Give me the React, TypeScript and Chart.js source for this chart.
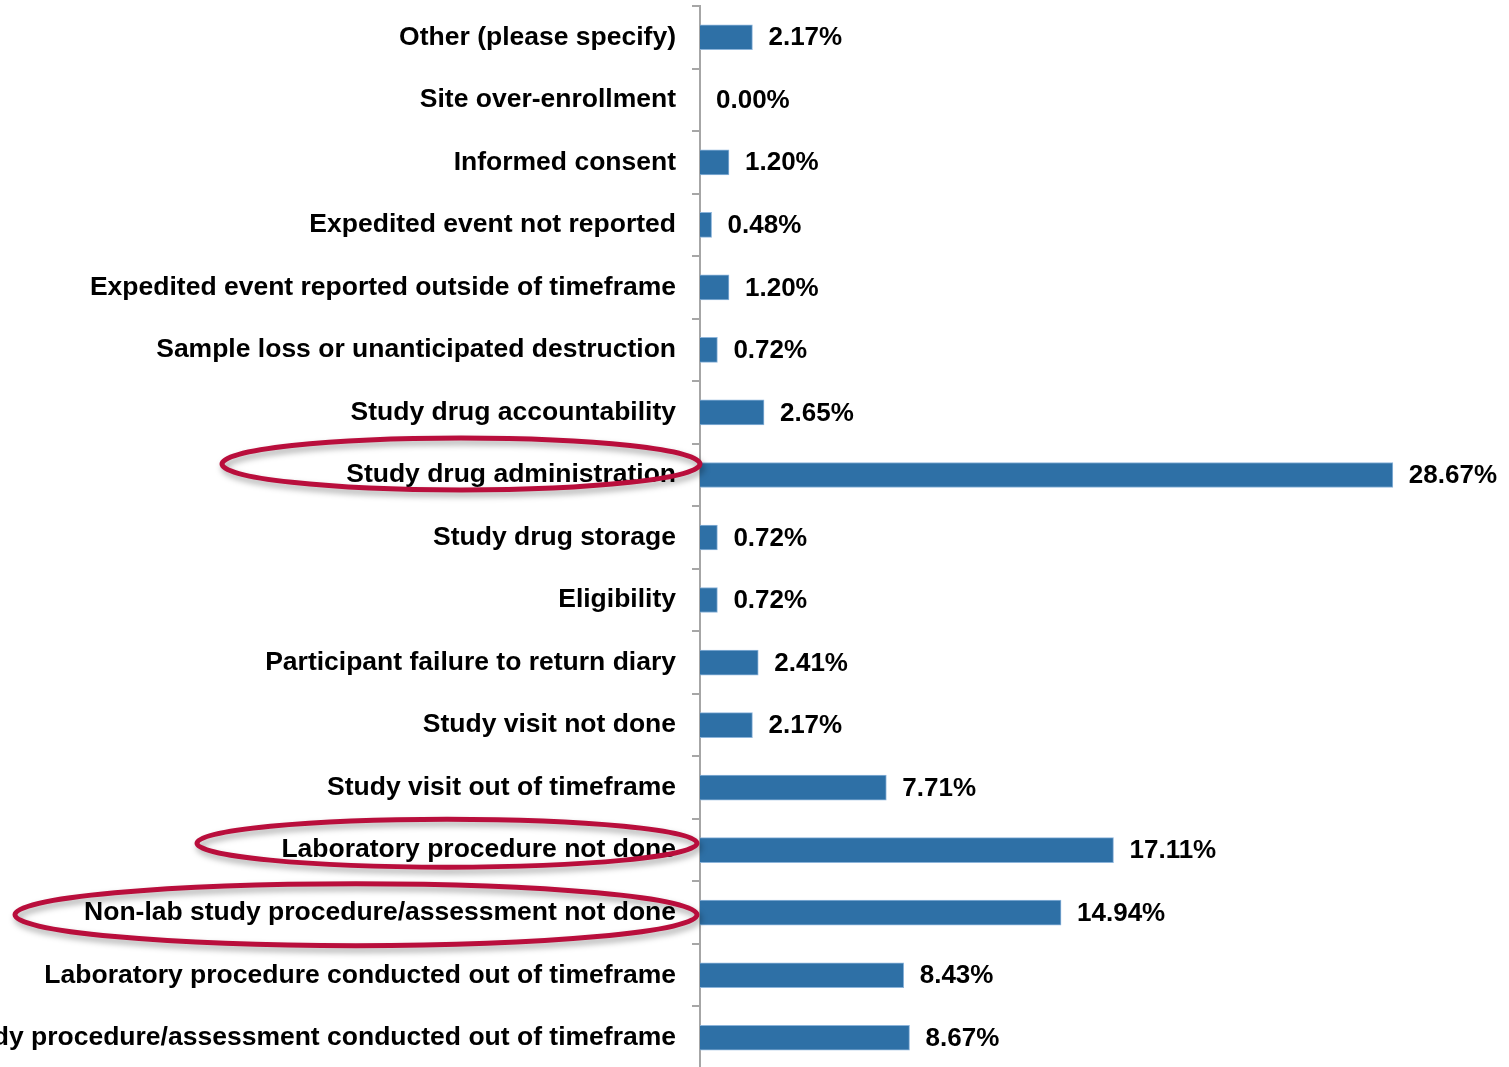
import React, { useEffect, useRef } from "react";
import { Chart, registerables } from "chart.js";

Chart.register(...registerables);

const categories: string[] = [
  "Other (please specify)",
  "Site over-enrollment",
  "Informed consent",
  "Expedited event not reported",
  "Expedited event reported outside of timeframe",
  "Sample loss or unanticipated destruction",
  "Study drug accountability",
  "Study drug administration",
  "Study drug storage",
  "Eligibility",
  "Participant failure to return diary",
  "Study visit not done",
  "Study visit out of timeframe",
  "Laboratory procedure not done",
  "Non-lab study procedure/assessment not done",
  "Laboratory procedure conducted out of timeframe",
  "Study procedure/assessment conducted out of timeframe",
];

const percentages: number[] = [
  2.17, 0.0, 1.2, 0.48, 1.2, 0.72, 2.65, 28.67, 0.72, 0.72, 2.41, 2.17, 7.71,
  17.11, 14.94, 8.43, 8.67,
];

const highlighted: number[] = [7, 13, 14];

const FONT = '"Liberation Sans", Arial, Helvetica, sans-serif';

const valueLabels = {
  id: "valueLabels",
  afterDatasetsDraw(chart: any) {
    const ctx = chart.ctx;
    const meta = chart.getDatasetMeta(0);
    ctx.save();
    ctx.font = `bold 26px ${FONT}`;
    ctx.fillStyle = "#000000";
    ctx.textAlign = "left";
    ctx.textBaseline = "middle";
    meta.data.forEach((bar: any, i: number) => {
      const v = percentages[i];
      ctx.fillText(`${v.toFixed(2)}%`, bar.x + 16, bar.y + 1);
    });
    ctx.restore();
  },
};

// geometry of the hand-drawn highlight ellipses, relative to the category row
const ellipseShapes: { [k: number]: { dx: number; dy: number; rx: number; ry: number } } = {
  7: { dx: -239, dy: -11, rx: 239, ry: 26 },
  13: { dx: -253, dy: -7, rx: 250, ry: 24 },
  14: { dx: -344, dy: 2, rx: 341, ry: 31 },
};

const highlightEllipses = {
  id: "highlightEllipses",
  afterDraw(chart: any) {
    const ctx = chart.ctx;
    const yScale = chart.scales.y;
    const left = chart.chartArea.left;
    ctx.save();
    highlighted.forEach((idx) => {
      const s = ellipseShapes[idx];
      if (!s) return;
      const cy = yScale.getPixelForValue(idx) + s.dy;
      const cx = left + s.dx;
      ctx.save();
      ctx.shadowColor = "rgba(0,0,0,0.35)";
      ctx.shadowBlur = 6;
      ctx.shadowOffsetX = 2;
      ctx.shadowOffsetY = 4;
      ctx.strokeStyle = "rgb(185,14,60)";
      ctx.lineWidth = 5;
      ctx.beginPath();
      ctx.ellipse(cx, cy, s.rx, s.ry, 0, 0, Math.PI * 2);
      ctx.stroke();
      ctx.restore();
    });
    ctx.restore();
  },
};

export default function App() {
  const canvasRef = useRef<HTMLCanvasElement | null>(null);

  useEffect(() => {
    if (!canvasRef.current) return;
    const chart = new Chart(canvasRef.current, {
      type: "bar",
      data: {
        labels: categories,
        datasets: [
          {
            data: percentages,
            backgroundColor: "rgb(46,112,166)",
            borderColor: "rgb(140,180,218)",
            borderWidth: 1,
            barThickness: 25,
          },
        ],
      },
      options: {
        indexAxis: "y",
        responsive: false,
        animation: false,
        layout: { padding: { top: 6, bottom: 0, left: 0, right: 84 } },
        plugins: {
          legend: { display: false },
          tooltip: { enabled: false },
        },
        scales: {
          x: {
            display: false,
            min: 0,
            max: 30,
          },
          y: {
            offset: true,
            border: { display: true, color: "#A6A6A6", width: 2 },
            grid: {
              offset: true,
              drawOnChartArea: false,
              drawTicks: true,
              tickLength: 8,
              color: "#A6A6A6",
              lineWidth: 2,
            },
            ticks: {
              autoSkip: false,
              padding: 16,
              color: "#000000",
              font: { family: FONT, size: 26.5, weight: "bold" },
            },
            afterFit(scale: any) {
              scale.width = 700;
              scale.paddingTop = 0;
              scale.paddingBottom = 0;
            },
          },
        },
      },
      plugins: [valueLabels, highlightEllipses],
    } as any);
    return () => chart.destroy();
  }, []);

  return (
    <div
      style={{
        position: "fixed",
        left: 0,
        top: 0,
        width: 1509,
        height: 1067,
        overflow: "hidden",
        background: "#ffffff",
      }}
    >
      <canvas ref={canvasRef} width={1509} height={1069} style={{ display: "block" }} />
    </div>
  );
}
